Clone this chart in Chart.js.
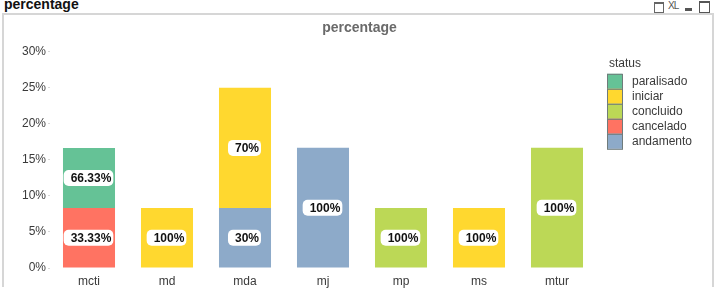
<!DOCTYPE html>
<html>
<head>
<meta charset="utf-8">
<script src="https://cdn.jsdelivr.net/npm/chart.js@4/dist/chart.umd.min.js"></script>
<style>
  html, body { margin: 0; padding: 0; background: #fff; }
  body { width: 715px; height: 297px; position: relative; overflow: hidden;
         font-family: 'Liberation Sans', Arial, sans-serif; }
  #caption { position: absolute; left: 4px; top: -4px; font: bold 14px 'Liberation Sans', Arial, sans-serif; color: #111; }
  #frame { position: absolute; left: 2px; top: 13px; width: 708px; height: 272px;
           border: 2px solid #d6d6d6; border-bottom: none; }
  #icons { position: absolute; top: 1px; left: 652px; height: 12px; font: 10px 'Liberation Sans', Arial, sans-serif; color: #555; }
  #icons span { position: absolute; }
  canvas { position: absolute; left: 0; top: 0; }
</style>
</head>
<body>
<div id="caption">percentage</div>
<div id="icons">
  <span style="left:2px;top:1px;width:8px;height:8px;border:1px solid #666;border-top-width:2px;"></span>
  <span style="left:16px;top:-1px;letter-spacing:-1px;">XL</span>
  <span style="left:33px;top:7px;width:7px;height:3px;background:#555;"></span>
  <span style="left:47px;top:0px;width:9px;height:9px;border:1px solid #555;border-top-width:2px;"></span>
</div>
<div id="frame"></div>
<canvas id="chart" width="715" height="297"></canvas>
<script>
(function () {
  'use strict';

  // ---------- Dados ----------
  const categories = ['mcti', 'md', 'mda', 'mj', 'mp', 'ms', 'mtur'];

  // percentual (%) por status — empilhado
  const andamento  = [null, null, 8.33, 16.67, null, null, null];
  const cancelado  = [8.33, null, null, null, null, null, null];
  const concluido  = [null, null, null, null, 8.33, null, 16.67];
  const iniciar    = [null, 8.33, 16.67, null, null, 8.33, null];
  const paralisado = [8.33, null, null, null, null, null, null];

  // rótulos mostrados dentro das barras
  const andamentoLabels  = ['', '', '30%', '100%', '', '', ''];
  const canceladoLabels  = ['33.33%', '', '', '', '', '', ''];
  const concluidoLabels  = ['', '', '', '', '100%', '', '100%'];
  const iniciarLabels    = ['', '100%', '70%', '', '', '100%', ''];
  const paralisadoLabels = ['66.33%', '', '', '', '', '', ''];

  const yTicks = [0, 5, 10, 15, 20, 25, 30];

  // ---------- Paleta ----------
  const colors = {
    paralisado: '#65C296',
    iniciar:    '#FFD82F',
    concluido:  '#BCD856',
    cancelado:  '#FF7362',
    andamento:  '#8DAAC9'
  };
  const textColor = '#3a3a3a';
  const font = "'Liberation Sans', Arial, sans-serif";

  const mk = (label, data, labels) => ({
    label, data, labels,
    backgroundColor: colors[label],
    borderWidth: 0,
    categoryPercentage: 1,
    barPercentage: 0.667
  });

  // ---------- Rótulos com fundo branco ----------
  const valueLabels = {
    id: 'valueLabels',
    afterDatasetsDraw(chart) {
      const ctx = chart.ctx;
      ctx.save();
      ctx.font = 'bold 12px ' + font;
      ctx.textAlign = 'center';
      ctx.textBaseline = 'middle';
      chart.data.datasets.forEach((ds, di) => {
        const meta = chart.getDatasetMeta(di);
        meta.data.forEach((bar, i) => {
          const txt = ds.labels[i];
          if (!txt || ds.data[i] == null) return;
          const p = bar.getProps(['x', 'y', 'base'], true);
          const cx = p.x + 2, cy = (p.y + p.base) / 2;
          const w = ctx.measureText(txt).width;
          ctx.fillStyle = '#fff';
          ctx.beginPath();
          ctx.roundRect(cx - w / 2 - 7, cy - 8, w + 9, 16, 5);
          ctx.fill();
          ctx.fillStyle = '#111';
          ctx.fillText(txt, cx, cy + 1);
        });
      });
      ctx.restore();
    }
  };

  // ---------- Legenda (lista vertical à direita) ----------
  const sideLegend = {
    id: 'sideLegend',
    afterDraw(chart) {
      const ctx = chart.ctx;
      const x = chart.chartArea.right + 11;
      let y = chart.chartArea.top + 22;
      ctx.save();
      ctx.font = '12px ' + font;
      ctx.textBaseline = 'middle';
      ctx.fillStyle = textColor;
      ctx.fillText('status', x + 2, y - 10);
      const items = chart.data.datasets.slice().reverse();
      items.forEach(ds => {
        ctx.fillStyle = ds.backgroundColor;
        ctx.fillRect(x, y, 15, 15);
        ctx.strokeStyle = '#6f7b7b';
        ctx.lineWidth = 1;
        ctx.strokeRect(x + 0.5, y + 0.5, 15, 15);
        ctx.fillStyle = textColor;
        ctx.fillText(ds.label, x + 25, y + 8);
        y += 15;
      });
      ctx.restore();
    }
  };

  new Chart(document.getElementById('chart'), {
    type: 'bar',
    data: {
      labels: categories,
      datasets: [
        mk('andamento',  andamento,  andamentoLabels),
        mk('cancelado',  cancelado,  canceladoLabels),
        mk('concluido',  concluido,  concluidoLabels),
        mk('iniciar',    iniciar,    iniciarLabels),
        mk('paralisado', paralisado, paralisadoLabels)
      ]
    },
    options: {
      responsive: false,
      animation: false,
      layout: { padding: { left: 4, right: 0, top: 15, bottom: 9 } },
      plugins: {
        legend: { display: false },
        tooltip: { enabled: false },
        title: {
          display: true,
          text: 'percentage',
          color: '#6a6a6a',
          font: { family: font, size: 14, weight: 'bold' },
          padding: { top: 5, bottom: 15 }
        }
      },
      scales: {
        x: {
          stacked: true,
          grid: { display: false, drawTicks: false },
          border: { display: false },
          ticks: { color: textColor, padding: 6, font: { family: font, size: 12 } },
          afterFit(s) { s.height = 20; }
        },
        y: {
          stacked: true,
          min: 0, max: 30,
          afterBuildTicks(s) { s.ticks = yTicks.map(v => ({ value: v })); },
          grid: { drawOnChartArea: false, drawTicks: true, tickLength: 2, color: '#d8d8d8' },
          border: { display: false },
          ticks: {
            color: textColor, padding: 2,
            font: { family: font, size: 12 },
            callback: v => v + '%'
          },
          afterFit(s) { s.width = 46; }
        },
        // espaço reservado à direita para a legenda
        legendSpace: {
          position: 'right',
          min: 0, max: 1,
          grid: { display: false, drawTicks: false },
          border: { display: false },
          ticks: { display: false },
          afterFit(s) { s.width = 119; }
        }
      }
    },
    plugins: [valueLabels, sideLegend]
  });
})();
</script>
</body>
</html>
